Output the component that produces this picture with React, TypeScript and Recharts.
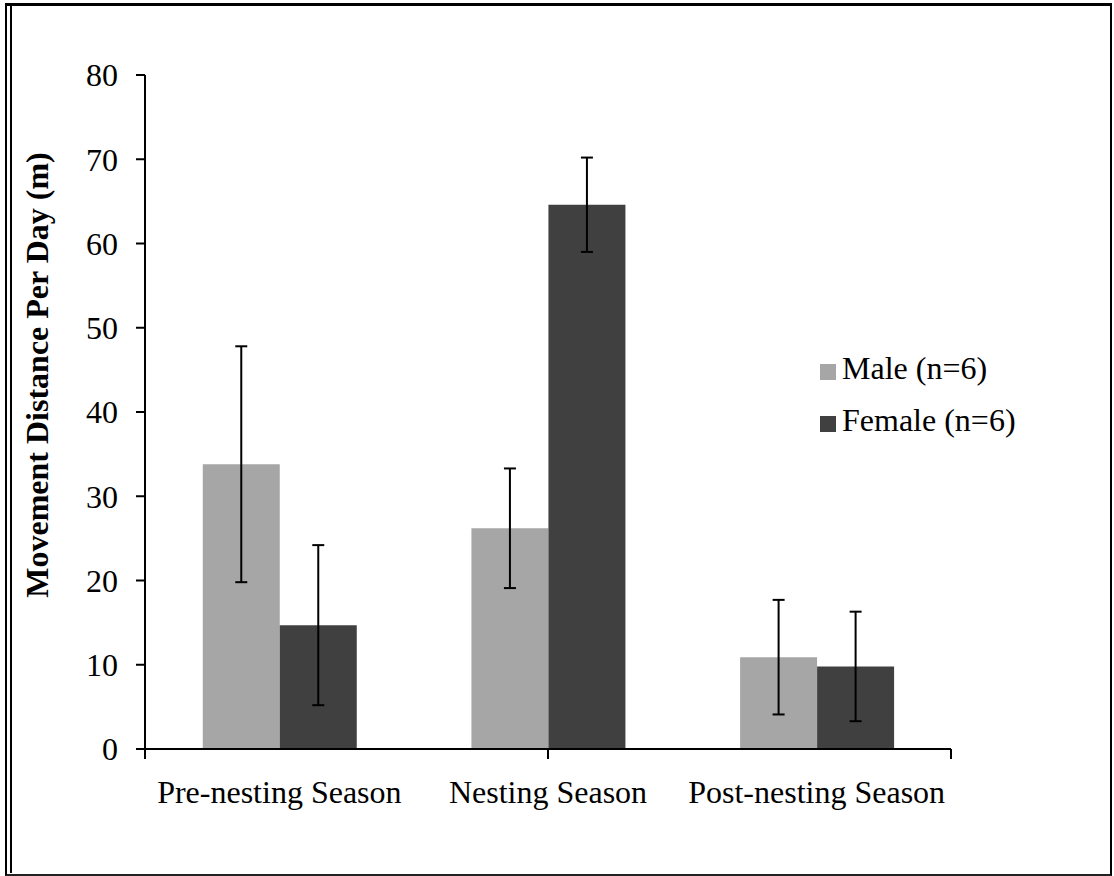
import React from 'react';
import { BarChart, Bar, XAxis, YAxis, ErrorBar, Legend } from 'recharts';

const seasons = ['Pre-nesting Season', 'Nesting Season', 'Post-nesting Season'];
const maleMean = [33.8, 26.2, 10.9];
const maleErr = [14.0, 7.1, 6.8];
const femaleMean = [14.7, 64.6, 9.8];
const femaleErr = [9.5, 5.6, 6.5];
const yTicks = [0, 10, 20, 30, 40, 50, 60, 70, 80];
const edgeTicks = [0, 1, 2, 3];
const legendOrder = ['male', 'female'];

const data = seasons.map((s, i) => ({
  season: s,
  male: maleMean[i],
  maleErr: maleErr[i],
  female: femaleMean[i],
  femaleErr: femaleErr[i],
}));

const font = '"Liberation Serif", "Times New Roman", serif';
const fs = 32;

const App: React.FC = () => {
  return (
    <div style={{ position: 'absolute', left: 0, top: 0, width: 1114, height: 876, background: '#fff', fontFamily: font }}>
      {/* frame */}
      <div style={{ position: 'absolute', left: 5, top: 3, width: 1103, height: 868, borderTop: '3px solid #000', borderLeft: '2px solid #000', borderRight: '2px solid #000', borderBottom: '2px solid #222' }} />
      <div style={{ position: 'absolute', left: 10, top: 6, width: 2, height: 867, background: '#000' }} />

      <div style={{ position: 'absolute', left: 0, top: 0 }}>
        <BarChart
          width={1114}
          height={876}
          data={data}
          margin={{ top: 75, right: 163, bottom: 125, left: 0 }}
          barCategoryGap="21.5%"
          barGap={0}
        >
          <XAxis
            xAxisId="cat"
            dataKey="season"
            height={1}
            tickLine={false}
            axisLine={{ stroke: '#000', strokeWidth: 2 }}
            tickMargin={25}
            tick={{ fill: '#000', fontSize: fs, fontFamily: font }}
            interval={0}
          />
          <XAxis
            xAxisId="edge"
            type="number"
            domain={[0, 3]}
            ticks={edgeTicks}
            interval={0}
            height={1}
            tick={() => <g />}
            tickSize={10}
            tickLine={{ stroke: '#000', strokeWidth: 2, transform: 'translate(0,-1)' }}
            axisLine={false}
          />
          <YAxis
            width={145}
            domain={[0, 80]}
            ticks={yTicks}
            interval={0}
            tickSize={9}
            tickMargin={18}
            axisLine={{ stroke: '#000', strokeWidth: 2 }}
            tickLine={{ stroke: '#000', strokeWidth: 2 }}
            tick={{ fill: '#000', fontSize: fs, fontFamily: font }}
            label={() => (
              <text
                x={37}
                y={375}
                transform="rotate(-90 37 375)"
                textAnchor="middle"
                dominantBaseline="central"
                fontFamily={font}
                fontSize={fs}
                fontWeight="bold"
                fill="#000"
              >
                Movement Distance Per Day (m)
              </text>
            )}
          />
          <Legend
            layout="vertical"
            align="center"
            verticalAlign="middle"
            iconType="square"
            iconSize={16}
            itemSorter={(item: any) => legendOrder.indexOf(item.dataKey)}
            wrapperStyle={{ left: 820, top: 342, width: 'auto', fontSize: fs, lineHeight: '52px', fontFamily: font }}
            formatter={(value) => <span style={{ color: '#000', marginLeft: 2 }}>{value}</span>}
          />
          <Bar xAxisId="cat" dataKey="male" name="Male (n=6)" fill="#A6A6A6" isAnimationActive={false}>
            <ErrorBar dataKey="maleErr" width={6} stroke="#000" strokeWidth={2} direction="y" />
          </Bar>
          <Bar xAxisId="cat" dataKey="female" name="Female (n=6)" fill="#404040" isAnimationActive={false}>
            <ErrorBar dataKey="femaleErr" width={6} stroke="#000" strokeWidth={2} direction="y" />
          </Bar>
        </BarChart>
      </div>
    </div>
  );
};

export default App;
